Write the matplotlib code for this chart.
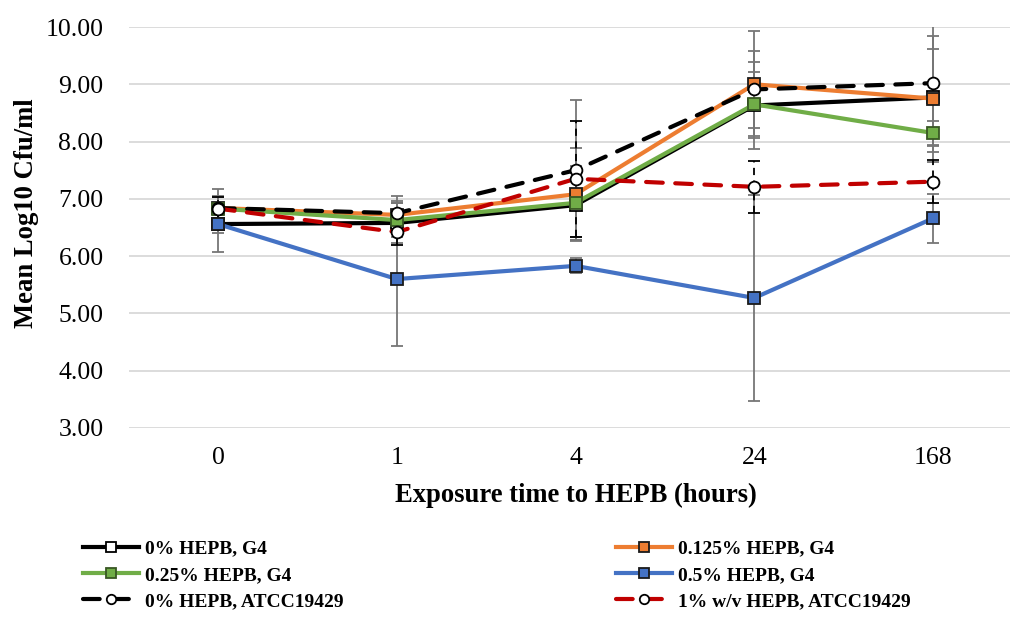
import matplotlib
matplotlib.use("Agg")
import matplotlib.pyplot as plt
import numpy as np

plt.rcParams['font.family'] = ['Liberation Serif', 'DejaVu Serif']

categories = ["0", "1", "4", "24", "168"]

g4_0 = [6.56, 6.58, 6.89, 8.63, 8.77]
g4_0_err = [0.15, 0.35, 0.56, 0.76, 0.85]
g4_0125 = [6.84, 6.72, 7.08, 9.00, 8.75]
g4_0125_err = [0.20, 0.25, 0.80, 0.93, 1.10]
g4_025 = [6.83, 6.63, 6.93, 8.65, 8.15]
g4_025_err = [0.20, 0.30, 0.65, 0.56, 0.21]
g4_05 = [6.56, 5.60, 5.83, 5.27, 6.66]
g4_05_err = [0.49, 1.17, 0.13, 1.80, 0.43]
atcc_0 = [6.84, 6.75, 7.50, 8.91, 9.02]
atcc_0_err = [0.33, 0.30, 1.23, 0.67, 1.21]
atcc_1 = [6.83, 6.42, 7.35, 7.21, 7.30]
atcc_1_err = [0.20, 0.22, 1.01, 0.45, 0.38]

labels = ["0% HEPB, G4", "0.125% HEPB, G4", "0.25% HEPB, G4",
          "0.5% HEPB, G4", "0% HEPB, ATCC19429", "1% w/v HEPB, ATCC19429"]

fig = plt.figure(figsize=(10.10, 6.18), dpi=100)
W, H = 1010, 618
left, right, top, bottom = 128.6, 1022.4, 27, 428
ax = fig.add_axes([left / W, 1 - bottom / H, (right - left) / W, (bottom - top) / H])

x = np.arange(len(categories))

styles = [
    dict(y=g4_0, e=g4_0_err, color='black', mfc='white', mec='black', marker='s', ls='-', ecol='#767676', els='-'),
    dict(y=g4_0125, e=g4_0125_err, color='#ED7D31', mfc='#ED7D31', mec='#1a1a1a', marker='s', ls='-', ecol='#767676', els='-'),
    dict(y=g4_025, e=g4_025_err, color='#70AD47', mfc='#70AD47', mec='#385723', marker='s', ls='-', ecol='#767676', els='-'),
    dict(y=g4_05, e=g4_05_err, color='#4472C4', mfc='#4472C4', mec='#1a1a1a', marker='s', ls='-', ecol='#767676', els='-'),
    dict(y=atcc_0, e=atcc_0_err, color='black', mfc='white', mec='black', marker='o', ls='--', ecol='#767676', els='-'),
    dict(y=atcc_1, e=atcc_1_err, color='#C00000', mfc='white', mec='black', marker='o', ls='--', ecol='black', els='--'),
]

handles = []
for i, (s, lab) in enumerate(zip(styles, labels)):
    eb = ax.errorbar(x, s['y'], yerr=s['e'], fmt='none', ecolor=s['ecol'],
                     elinewidth=1.3, capsize=4, capthick=1.3, zorder=2 + i * 0.1)
    if s['els'] == '--':
        for lc in eb[2]:
            lc.set_linestyle((0, (4, 3)))
    ln, = ax.plot(x, s['y'], color=s['color'], lw=3, ls=s['ls'],
                  marker=s['marker'], markersize=8.5, markerfacecolor=s['mfc'],
                  markeredgecolor=s['mec'], markeredgewidth=1.3,
                  dash_capstyle='round', zorder=3 + i * 0.1, label=lab)
    if s['ls'] == '--':
        ln.set_dashes((4, 3))
    handles.append(ln)

ax.set_xlim(-0.5, 4.5)
ax.set_ylim(3, 10)
ax.set_yticks(np.arange(3, 10.01, 1.0))
ax.set_yticklabels([f"{v:.2f}" for v in np.arange(3, 10.01, 1.0)])
ax.set_xticks(x)
ax.set_xticklabels(categories)
ax.grid(axis='y', color='#d9d9d9', lw=1.3)
ax.set_axisbelow(True)
for sp in ax.spines.values():
    sp.set_visible(False)
ax.tick_params(axis='both', length=0, labelsize=18.5)
ax.tick_params(axis='y', pad=18)
ax.tick_params(axis='x', pad=14)

ax.set_xlabel("Exposure time to HEPB (hours)", fontsize=19.2, fontweight='bold', labelpad=10)
fig.text(27 / W, 1 - 213 / H, "Mean Log10 Cfu/ml", fontsize=19.2, fontweight='bold',
         rotation=90, ha='center', va='center')

order = [0, 2, 4, 1, 3, 5]
leg = fig.legend([handles[k] for k in order], [labels[k] for k in order],
                 ncol=2, loc='upper left', bbox_to_anchor=(75 / W, 1 - 532 / H),
                 frameon=False, prop={'weight': 'bold', 'size': 14},
                 handlelength=2.9, handletextpad=0.3, columnspacing=14.0,
                 labelspacing=0.45, markerscale=0.8, borderaxespad=0)

fig.savefig("out.png", dpi=100)
